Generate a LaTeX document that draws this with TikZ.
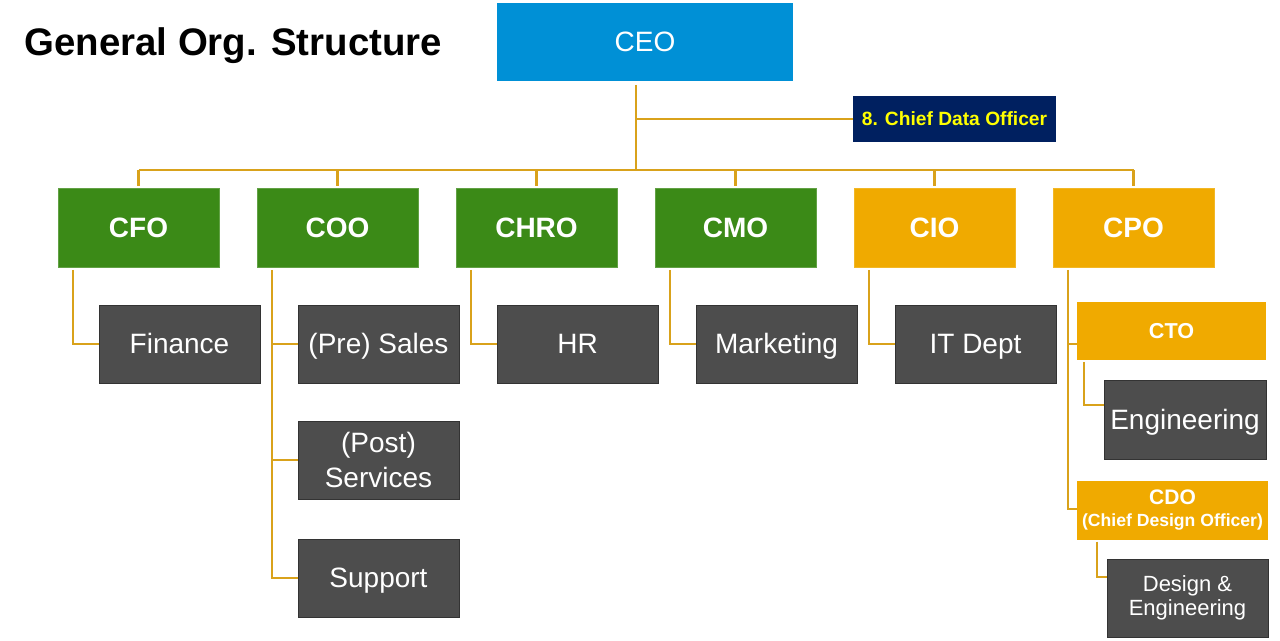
\documentclass[tikz,border=0pt]{standalone}
\usepackage{fontspec}
\setmainfont{Liberation Sans}
\definecolor{ceoblue}{HTML}{0090D6}
\definecolor{navy}{HTML}{002060}
\definecolor{cgreen}{HTML}{3B8A17}
\definecolor{corange}{HTML}{F0AA00}
\definecolor{cgray}{HTML}{4D4D4D}
\definecolor{cgrayb}{HTML}{333333}
\definecolor{cline}{HTML}{D9A21B}
\definecolor{cyel}{HTML}{FFFF00}
\newcommand{\fs}[1]{\fontsize{#1}{#1}\selectfont}
\begin{document}
\begin{tikzpicture}[x=0.5pt,y=-0.5pt,
  box/.style={rectangle,inner sep=0pt,outer sep=0pt,text=white,align=center},
  one/.style={text height=10pt,text depth=0pt},
  chief/.style={box,one,minimum width=80.5pt,minimum height=39.5pt,font=\fs{14}\bfseries},
  green/.style={chief,fill=cgreen,draw=cgreen!80!white,line width=0.4pt},
  orange/.style={chief,fill=corange,draw=corange!85!white,line width=0.4pt},
  dept/.style={box,fill=cgray,draw=cgrayb,line width=0.4pt,minimum width=80.5pt,minimum height=39pt,font=\fs{14}},
  conn/.style={draw=cline,line width=1.4pt},
]
\useasboundingbox (0,0) rectangle (1280,641);
% title
\node[anchor=base west,inner sep=0pt,font=\fs{19.2}\bfseries] (title) at (24,56) {General Org. Structure};
% CEO
\node[box,one,fill=ceoblue,minimum width=148pt,minimum height=39pt,font=\fs{14}] (ceo) at (645,42) {CEO};
\node[box,fill=navy,text=cyel,text height=6.9pt,text depth=0pt,minimum width=101.5pt,minimum height=23pt,font=\fs{9.6}\bfseries] (cdata) at (954.5,119) {8. Chief Data Officer};
% level 2
\node[green] (cfo) at (138.5,227.5) {CFO};
\node[green] (coo) at (337.5,227.5) {COO};
\node[green] (chro) at (536.5,227.5) {CHRO};
\node[green] (cmo) at (735.5,227.5) {CMO};
\node[orange] (cio) at (934.5,227.5) {CIO};
\node[orange] (cpo) at (1133.5,227.5) {CPO};
% level 3
\node[dept,one] (fin) at (179.5,344) {Finance};
\node[dept,one] (sales) at (378.5,344) {(Pre) Sales};
\node[dept,font=\fontsize{14}{17.5}\selectfont] (post) at (378.5,460) {(Post)\\Services};
\node[dept,one] (sup) at (378.5,578) {Support};
\node[dept,one] (hr) at (577.5,344) {HR};
\node[dept,one] (mkt) at (776.5,344) {Marketing};
\node[dept,one] (it) at (975.5,344) {IT Dept};
% CPO subtree
\node[box,fill=corange,text height=7.7pt,text depth=0pt,minimum width=94.5pt,minimum height=29pt,font=\fs{10.8}\bfseries] (cto) at (1171.5,331) {CTO};
\node[dept,one,minimum width=81pt,minimum height=39.5pt] (eng) at (1185,419.5) {Engineering};
\node[box,fill=corange,minimum width=95.5pt,minimum height=29pt,align=center,font=\fontsize{10.5}{11}\selectfont\bfseries] (cdo) at (1172.5,510.5) {CDO\\{\fs{8.8}(Chief Design Officer)}};
\node[dept,font=\fontsize{11}{12}\selectfont] (deng) at (1187.5,598) {Design \&\\Engineering};
% connectors
\coordinate (bus) at (636,170);
\coordinate (ctoin) at ([yshift=-6.5pt]cto.west);
\coordinate (cpodown) at ([xshift=7.5pt,yshift=-1.5pt]cpo.south west);
\draw[conn] ([yshift=-2pt]bus |- ceo.south) -- (bus);
\draw[conn] (bus |- cdata.west) -- (cdata.west);
\draw[conn] (cfo.north |- bus) -- (cpo.north |- bus);
\foreach \n in {cfo,coo,chro,cmo,cio,cpo}{
  \draw[conn] (\n.north |- bus) -- ([yshift=1pt]\n.north);
}
\draw[conn] ([xshift=7.5pt,yshift=-1.5pt]cfo.south west) |- (fin.west);
\draw[conn] ([xshift=7.5pt,yshift=-1.5pt]coo.south west) |- (sup.west);
\draw[conn] ([xshift=7.5pt]coo.south west |- sales.west) -- (sales.west);
\draw[conn] ([xshift=7.5pt]coo.south west |- post.west) -- (post.west);
\draw[conn] ([xshift=7.5pt,yshift=-1.5pt]chro.south west) |- (hr.west);
\draw[conn] ([xshift=7.5pt,yshift=-1.5pt]cmo.south west) |- (mkt.west);
\draw[conn] ([xshift=7.5pt,yshift=-1.5pt]cio.south west) |- (it.west);
\draw[conn] (cpodown) |- ([yshift=0.75pt]cdo.west);
\draw[conn] (cpodown |- ctoin) -- (ctoin);
\draw[conn] ([xshift=3.5pt,yshift=-1pt]cto.south west) |- ([yshift=7.25pt]eng.west);
\draw[conn] ([xshift=10pt,yshift=-1pt]cdo.south west) |- ([yshift=10.5pt]deng.west);
\end{tikzpicture}
\end{document}
